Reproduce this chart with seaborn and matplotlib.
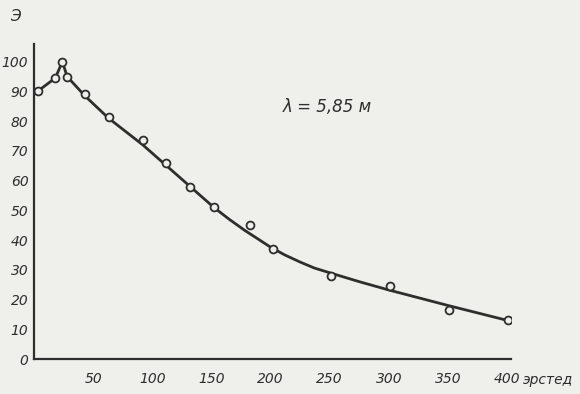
import matplotlib
matplotlib.use("Agg")
import matplotlib.pyplot as plt
import seaborn as sns
import pandas as pd

# measured points (field in oersted, value)
field_pts = [3, 18, 24, 28, 43, 63, 92, 112, 132, 152, 183, 202, 251, 301, 351, 401]
value_pts = [90, 94.5, 100, 95, 89, 81.5, 73.5, 66, 58, 51, 45, 37, 28, 24.5, 16.5, 13]

# drawn smooth curve through the points
field_curve = [3, 18, 24, 28, 43, 63, 92, 112, 132, 152, 165, 178, 190, 200, 212, 225, 237, 250, 275, 300, 325, 350, 375, 400]
value_curve = [90, 94.5, 100, 95, 88.5, 81, 72, 65, 58, 51, 47, 43.3, 40.2, 37.6, 35, 32.6, 30.6, 29, 26, 23.2, 20.6, 18, 15.5, 13]

y_ticks = [0, 10, 20, 30, 40, 50, 60, 70, 80, 90, 100]
x_ticks = [50, 100, 150, 200, 250, 300, 350, 400]

sns.set_theme(style="white")
plt.rcParams['font.family'] = ['DejaVu Sans']

bg = '#efefec'
ink = '#2e2e2e'

fig = plt.figure(figsize=(5.8, 3.94), dpi=100, facecolor=bg)
ax = fig.add_axes([0.0586, 0.0888, 0.822, 0.80])
ax.set_facecolor(bg)

df_curve = pd.DataFrame({"H": field_curve, "E": value_curve})
df_pts = pd.DataFrame({"H": field_pts, "E": value_pts})

sns.lineplot(data=df_curve, x="H", y="E", ax=ax, color=ink, linewidth=2.0, sort=False)
sns.scatterplot(data=df_pts, x="H", y="E", ax=ax, marker='o', s=32,
                facecolor=bg, edgecolor=ink, linewidth=1.3, zorder=5)

ax.set_xlim(0, 403)
ax.set_ylim(0, 106)
ax.set_xlabel("")
ax.set_ylabel("")

for s in ['top', 'right']:
    ax.spines[s].set_visible(False)
for s in ['left', 'bottom']:
    ax.spines[s].set_color(ink)
    ax.spines[s].set_linewidth(1.6)

ax.set_yticks(y_ticks)
ax.set_yticklabels([str(v) for v in y_ticks], fontsize=10, style='italic', color=ink)
ax.set_xticks(x_ticks)
ax.set_xticklabels([str(v) for v in x_ticks], fontsize=10, style='italic', color=ink)
ax.tick_params(axis='both', direction='in', length=6, width=1.3, colors=ink)
ax.tick_params(axis='x', pad=9)
ax.tick_params(axis='y', pad=4)

fig.text(0.027, 0.958, "Э", fontsize=11, style='italic', color=ink, ha='center', va='center')
fig.text(0.945, 0.035, "эрстед", fontsize=10, style='italic', color=ink, ha='center', va='center')
fig.text(0.564, 0.728, "λ = 5,85 м", fontsize=12, style='italic', color=ink, ha='center', va='center')

fig.savefig("out.png", dpi=100, facecolor=bg)
